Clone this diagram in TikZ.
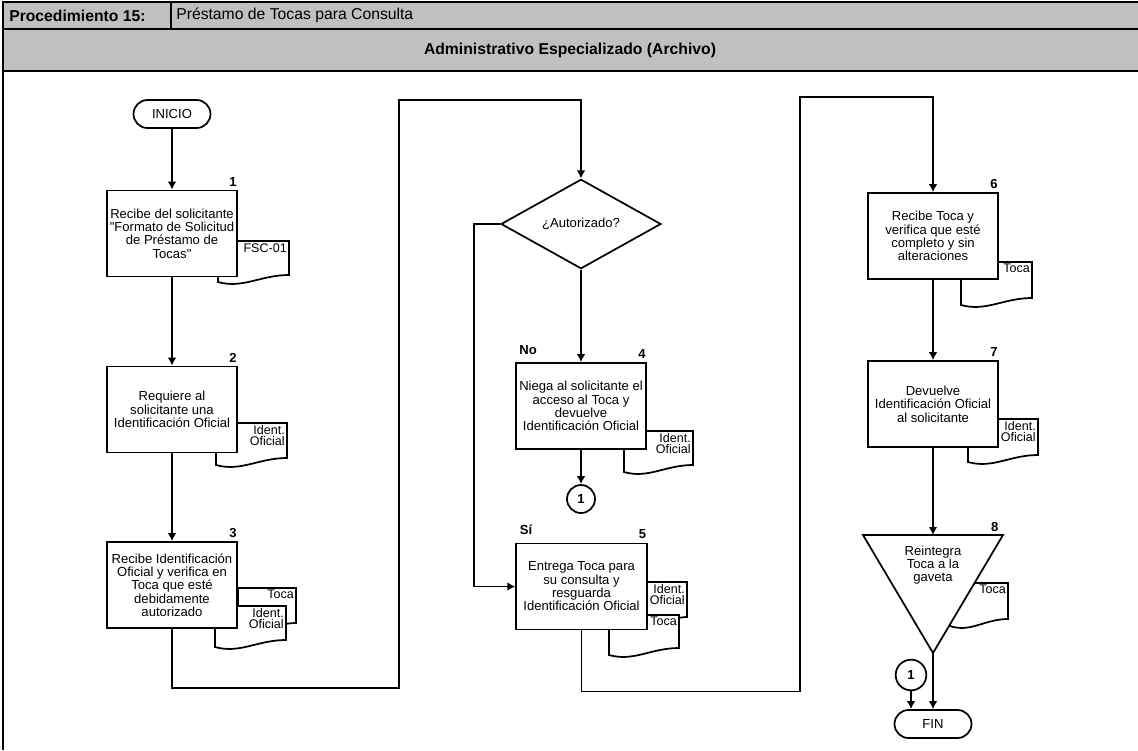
\documentclass[tikz,border=0pt]{standalone}
\usepackage{fontspec}
\setmainfont{Liberation Sans}
\usetikzlibrary{arrows.meta, shapes.geometric, calc}

\definecolor{hdrgray}{RGB}{192,192,192}
\newcommand{\boxfont}{\fontsize{9.8}{10}\selectfont}
\newcommand{\docfont}{\fontsize{9.4}{8.6}\selectfont}
% document sheet: name, left, top, right, bottom, text
\newcommand{\docsheet}[6]{%
  \draw[docline] (#2,#3) -- (#4,#3) -- (#4,#5)
    .. controls ({#4-0.4*(#4-#2)},#5) and ({#2+0.35*(#4-#2)},{#5+14}) .. (#2,{#5+7}) -- cycle;
  \node[doctext, anchor=north east] (#1) at ({#4-2},{#3+2}) {#6};
}

\begin{document}
\begin{tikzpicture}
      [
        x=0.75pt, y=-0.75pt,
        >={Latex[length=6pt,width=6.5pt]},
        line/.style={line width=1.3pt},
        flow/.style={line width=1.3pt,->},
        hdr/.style={font=\fontsize{11.8}{14}\selectfont, inner sep=0pt},
        proc/.style={draw, fill=white, line width=1.3pt, minimum width=98pt,
          minimum height=64.5pt, align=center, inner sep=1pt, font=\boxfont},
        term/.style={draw, fill=white, rounded corners=10.5pt, line width=1.3pt,
          minimum width=57.75pt, minimum height=21pt, font=\boxfont},
        decision/.style={draw, fill=white, diamond, line width=1.3pt, minimum width=120pt,
          minimum height=58.5pt, inner sep=0pt, font=\boxfont},
        conn/.style={draw, fill=white, circle, line width=1.3pt, inner sep=0pt,
          font=\boxfont\bfseries},
        num/.style={font=\boxfont\bfseries, inner sep=1pt},
        docline/.style={draw, fill=white, line width=1.3pt},
        doctext/.style={font=\docfont, align=right, inner sep=0pt}
      ]
      \useasboundingbox (0,0) rectangle (1138,750);
      % header
      \fill[hdrgray] (3,2) rectangle (1138,71);
      \draw[line] (1138,2) -- (3,2) -- (3,750);
      \draw[line] (3,29) -- (1138,29);
      \draw[line] (3,71) -- (1138,71);
      \draw[line] (171,2) -- (171,29);
      \node[hdr, anchor=west] (proc) at (9,15.5) {\bfseries Procedimiento 15:};
      \node[hdr, anchor=west] (title) at (176,15.5) {Préstamo de Tocas para Consulta};
      \node[hdr] (area) at (570,50) {\bfseries Administrativo Especializado (Archivo)};
      % documents
      \docsheet{d1}{218}{241}{289}{275}{FSC-01}
      \docsheet{d2}{216}{423}{287}{458}{Ident.\\Oficial}
      \docsheet{d3a}{238}{588}{296}{623}{Toca}
      \docsheet{d3b}{215}{606}{286}{640}{Ident.\\Oficial}
      \docsheet{d4}{624}{431}{693}{465}{Ident.\\Oficial}
      \docsheet{d5a}{644}{582}{687}{617}{Ident.\\Oficial}
      \docsheet{d5b}{609}{615}{679}{648}{Toca}
      \docsheet{d6}{961}{262}{1032}{298}{Toca}
      \docsheet{d7}{968}{419}{1038}{455}{Ident.\\Oficial}
      \docsheet{d8}{950}{583}{1008}{619}{Toca}
      % steps
      \node[term] (ini) at (172,114) {INICIO};
      \node[proc] (b1) at (172,233.5) {Recibe del solicitante\\\textquotedbl Formato de Solicitud\\de Préstamo de\\Tocas\textquotedbl};
      \node[proc] (b2) at (172,409.5) {Requiere al\\solicitante una\\Identificación Oficial};
      \node[proc] (b3) at (172,585) {Recibe Identificación\\Oficial y verifica en\\Toca que esté\\debidamente\\autorizado};
      \node[decision] (dec) at (581,224) {¿Autorizado?};
      \node[proc] (b4) at (581,406) {Niega al solicitante el\\acceso al Toca y\\devuelve\\Identificación Oficial};
      \node[conn, minimum size=21pt] (c1a) at (581,499) {1};
      \node[proc] (b5) at (581.5,586.5) {Entrega Toca para\\su consulta y\\resguarda\\Identificación Oficial};
      \node[proc] (b6) at (933,236) {Recibe Toca y\\verifica que esté\\completo y sin\\alteraciones};
      \node[proc] (b7) at (933,404) {Devuelve\\Identificación Oficial\\al solicitante};
      \coordinate (t8top) at (933,535);
      \coordinate (t8r) at (1003,535);
      \coordinate (t8apex) at (933,653);
      \draw[docline] (863,535) -- (t8r) -- (t8apex) -- cycle;
      \node[font=\boxfont, align=center, inner sep=0pt] (b8) at (933,565) {Reintegra\\Toca a la\\gaveta};
      \node[term] (fin) at (933,724) {FIN};
      \node[conn, minimum size=23pt] (c1b) at (911,675) {1};
      % numbers and answers
      \foreach \b/\n in {b1/1,b2/2,b3/3,b4/4,b5/5,b6/6,b7/7} {
          \node[num, anchor=south east] (n\n) at ($(\b.north east)+(0,-2)$) {\n};
      }
      \node[num, anchor=south east] (n8) at ($(t8r)+(-3,-2)$) {8};
      \node[num, anchor=south west] (lno) at ($(b4.north west)+(3,-6)$) {No};
      \node[num, anchor=south west] (lsi) at ($(b5.north west)+(3,-6)$) {Sí};
      % connectors
      \draw[flow] (ini) -- (b1);
      \draw[flow] (b1) -- (b2);
      \draw[flow] (b2) -- (b3);
      \draw[flow] (b3.south) -- ++(0,59) -| (399,100) -| (dec.north);
      \draw[flow] (dec.west) -- ++(-26,0) |- (b5.west);
      \draw[flow] (dec.south) -- (b4.north);
      \draw[flow] (b4) -- (c1a);
      \draw[flow] (b5.south) -- ++(0,61) -| (800,97) -| (b6.north);
      \draw[flow] (b6) -- (b7);
      \draw[flow] (b7) -- (t8top);
      \draw[flow] (t8apex) -- (fin);
      \draw[flow] (c1b) -- (c1b |- fin.north);
    \end{tikzpicture}
\end{document}
